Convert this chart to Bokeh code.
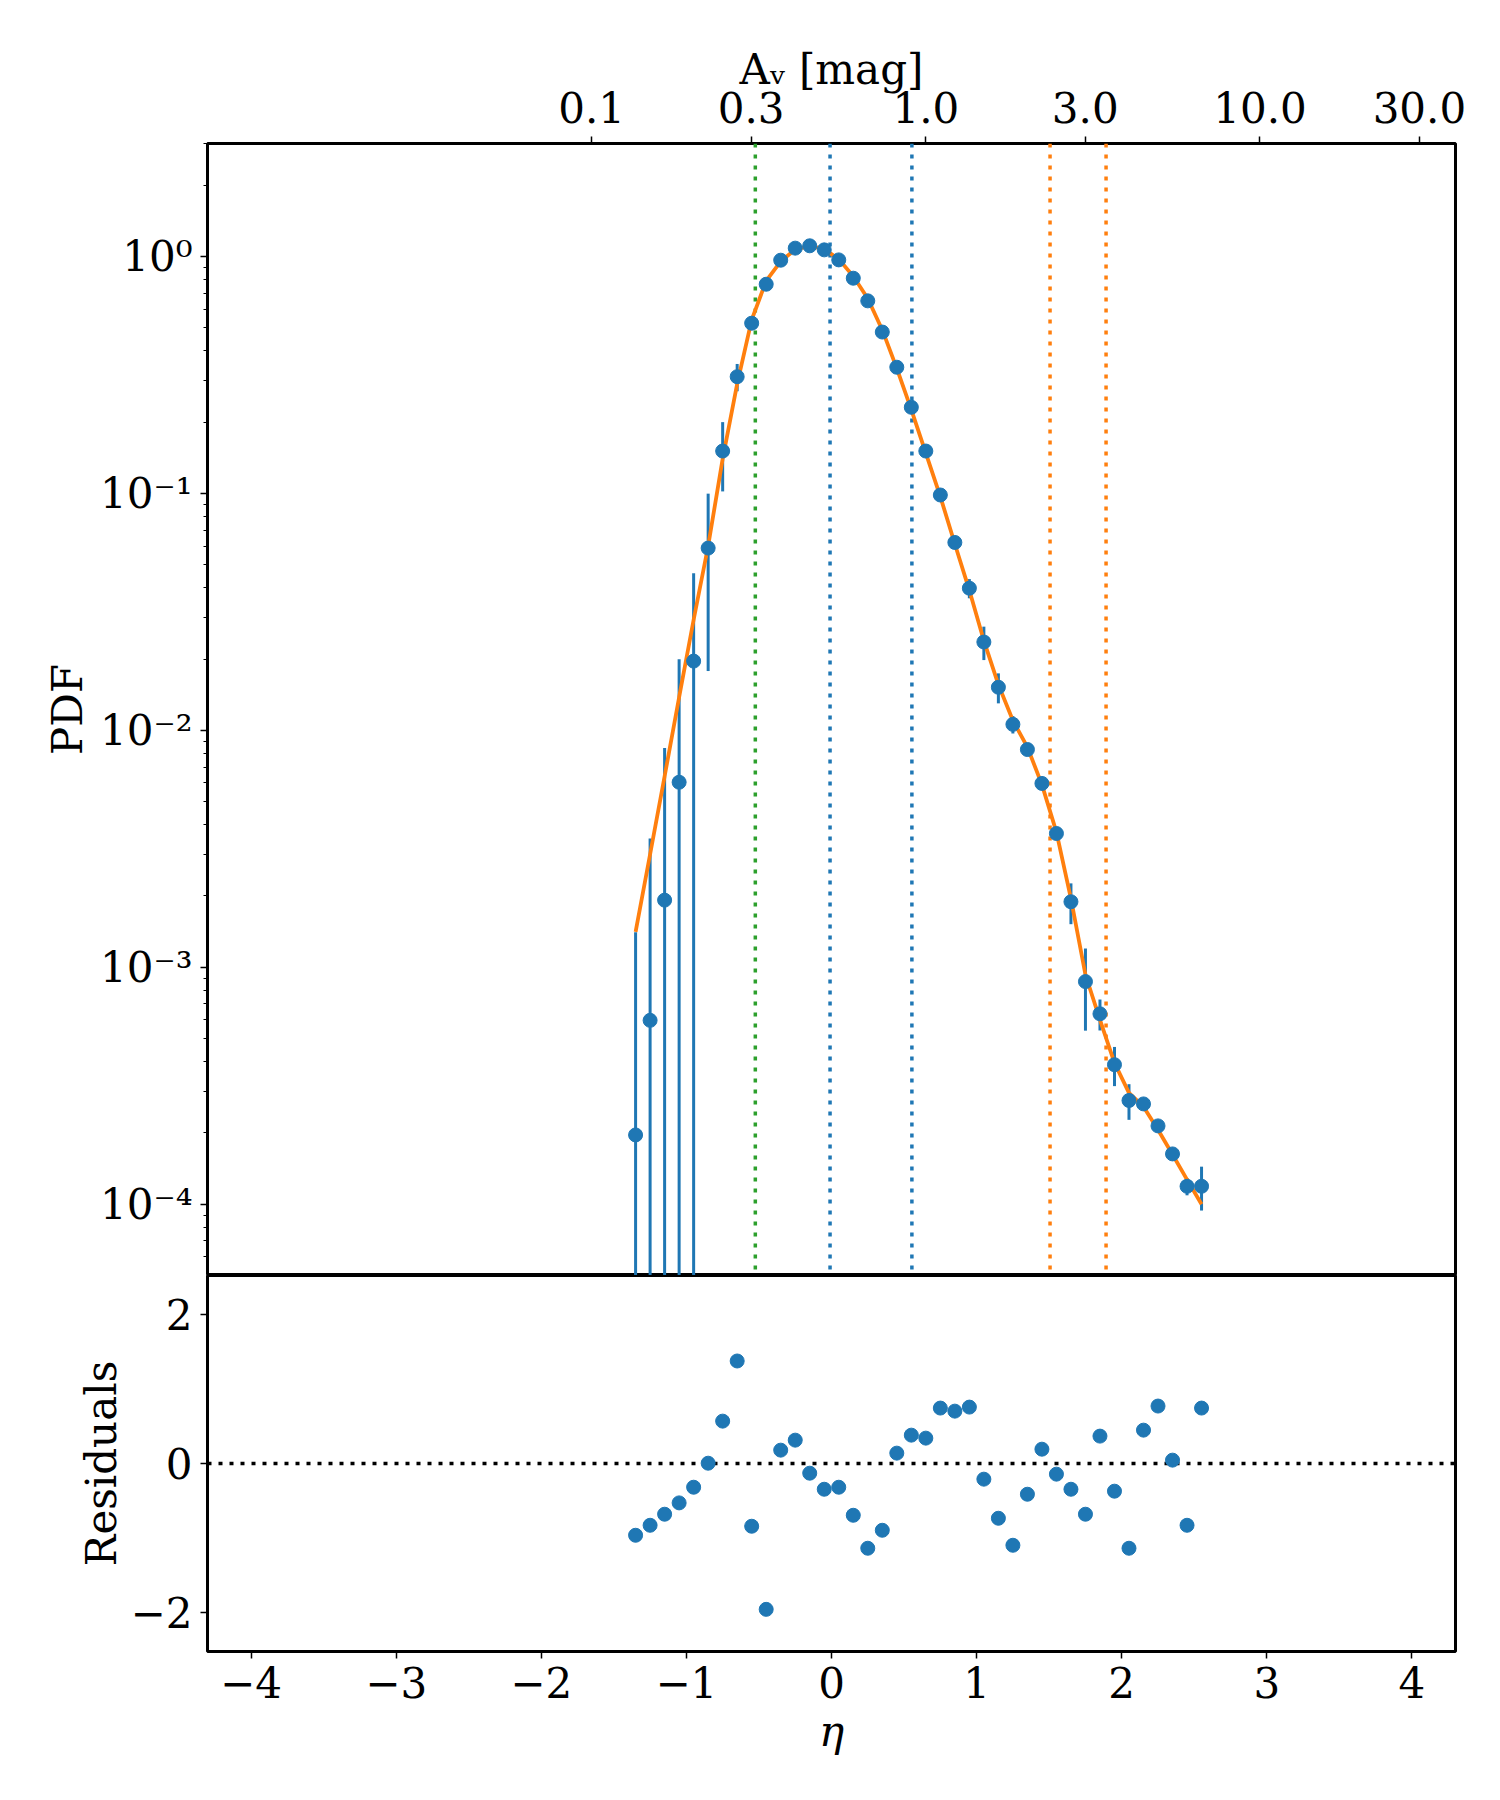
import numpy as np
from bokeh.plotting import figure
from bokeh.models import (Range1d, LinearAxis, FixedTicker, CustomJSTickFormatter,
                          Span, ColumnDataSource)
from bokeh.layouts import column
from bokeh.embed import file_html
from bokeh.resources import INLINE

# ---------------- data ----------------
eta = [-1.35, -1.25, -1.15, -1.05, -0.95, -0.85, -0.75, -0.65, -0.55, -0.45,
       -0.35, -0.25, -0.15, -0.05, 0.05, 0.15, 0.25, 0.35, 0.45, 0.55,
       0.65, 0.75, 0.85, 0.95, 1.05, 1.15, 1.25, 1.35, 1.45, 1.55,
       1.65, 1.75, 1.85, 1.95, 2.05, 2.15, 2.25, 2.35, 2.45, 2.55]

pdf = [1.96e-4, 5.97e-4, 1.92e-3, 6.04e-3, 0.0196, 0.0588, 0.151, 0.311, 0.523, 0.764,
       0.965, 1.085, 1.11, 1.067, 0.968, 0.81, 0.65, 0.48, 0.341, 0.231,
       0.151, 0.0985, 0.0621, 0.0398, 0.0236, 0.0152, 0.0106, 0.0083, 0.00597, 0.00367,
       0.00189, 8.7e-4, 6.36e-4, 3.88e-4, 2.74e-4, 2.65e-4, 2.14e-4, 1.63e-4, 1.19e-4, 1.19e-4]

pdf_err = [1.21e-3, 2.9e-3, 6.5e-3, 1.39e-2, 2.64e-2, 4.1e-2, 4.9e-2, 4.1e-2, 0.02, 0.013,
           0.02, 0.02, 0.02, 0.02, 0.02, 0.018, 0.015, 0.012, 0.009, 0.006,
           0.003, 0.004, 0.0035, 0.0037, 0.0038, 0.0022, 0.0009, 0.0004, 0.0003, 0.0002,
           0.00037, 3.3e-4, 0.95e-4, 0.73e-4, 0.47e-4, 0.15e-4, 0.1e-4, 0.1e-4, 0.1e-4, 0.25e-4]

pdf_fit = [1.41e-3, 3.0e-3, 6.4e-3, 0.0138, 0.0293, 0.060, 0.140, 0.290, 0.540, 0.790,
           0.955, 1.07, 1.11, 1.075, 0.975, 0.825, 0.665, 0.49, 0.337, 0.226,
           0.148, 0.097, 0.0612, 0.0390, 0.0239, 0.0156, 0.0110, 0.0085, 0.0059, 0.00372,
           0.00195, 9.3e-4, 6.0e-4, 3.95e-4, 2.95e-4, 2.58e-4, 2.06e-4, 1.62e-4, 1.27e-4, 1.0e-4]

residuals = [-0.962, -0.828, -0.680, -0.528, -0.318, 0.004, 0.568, 1.374, -0.841, -1.955,
             0.179, 0.313, -0.130, -0.345, -0.318, -0.694, -1.136, -0.895, 0.139, 0.380,
             0.340, 0.743, 0.702, 0.756, -0.210, -0.734, -1.096, -0.412, 0.192, -0.143,
             -0.345, -0.680, 0.367, -0.371, -1.136, 0.447, 0.770, 0.045, -0.828, 0.743]

vline_eta = [-0.525, -0.01, 0.554, 1.506, 1.892]
vline_colors = ["#2ca02c", "#1f77b4", "#1f77b4", "#ff7f0e", "#ff7f0e"]

av_mean = 0.522
av_ticks = [0.1, 0.3, 1.0, 3.0, 10.0, 30.0]
x_ticks = [-4, -3, -2, -1, 0, 1, 2, 3, 4]
pdf_ticks = [1e-4, 1e-3, 1e-2, 1e-1, 1.0]
res_ticks = [-2, 0, 2]

# ---------------- styling ----------------
FONT = "DejaVu Serif"
FS = "42px"
BLUE = "#1f77b4"
ORANGE = "#ff7f0e"
DOT = "4 7"
DOT_W = 3.5

x_lo, x_hi = -4.3, 4.3
y_lo, y_hi = 5e-5, 3.0
r_lo, r_hi = -2.52, 2.52


def style_axis(ax, italic=False):
    ax.axis_line_color = None
    ax.major_tick_line_color = "black"
    ax.major_tick_line_width = 1.5
    ax.major_tick_out = 7
    ax.major_tick_in = 0
    ax.minor_tick_line_color = "black"
    ax.minor_tick_line_width = 1.2
    ax.minor_tick_out = 4
    ax.minor_tick_in = 0
    ax.major_label_text_font = FONT
    ax.major_label_text_font_size = FS
    ax.major_label_text_color = "black"
    ax.axis_label_text_font = FONT
    ax.axis_label_text_font_size = FS
    ax.axis_label_text_color = "black"
    ax.axis_label_text_font_style = "italic" if italic else "normal"
    ax.major_label_standoff = 8
    ax.axis_label_standoff = 10


def style_fig(p):
    p.outline_line_color = "black"
    p.outline_line_width = 3
    p.outline_line_alpha = 1.0
    p.xgrid.visible = False
    p.ygrid.visible = False
    p.background_fill_color = "white"
    p.border_fill_color = "white"


minus_fmt = CustomJSTickFormatter(code="return tick.toFixed(0).replace('-', '\u2212');")
log_fmt = CustomJSTickFormatter(code="""
const sup = {'-': '\u207b', '0': '\u2070', '1': '\u00b9', '2': '\u00b2', '3': '\u00b3',
             '4': '\u2074', '5': '\u2075', '6': '\u2076', '7': '\u2077', '8': '\u2078', '9': '\u2079'};
const e = Math.round(Math.log10(tick));
return '10' + String(e).split('').map(c => sup[c]).join('');
""")

xr = Range1d(x_lo, x_hi)

# ---------------- main panel ----------------
p1 = figure(width=1475, height=1275, x_range=xr, y_range=Range1d(y_lo, y_hi),
            y_axis_type="log", x_axis_location=None, toolbar_location=None,
            output_backend="svg", min_border_left=207, min_border_right=20,
            min_border_top=143, min_border_bottom=0)
style_fig(p1)

minor = [m * 10.0 ** k for k in range(-5, 1) for m in range(2, 10)]
minor = [v for v in minor if y_lo <= v <= y_hi]
yax = p1.yaxis[0]
yax.ticker = FixedTicker(ticks=pdf_ticks, minor_ticks=minor)
yax.formatter = log_fmt
yax.axis_label = "PDF"
style_axis(yax)
yax.axis_label_standoff = 5

top_ax = LinearAxis(
    ticker=FixedTicker(ticks=[float(np.log(a / av_mean)) for a in av_ticks]),
    formatter=CustomJSTickFormatter(args=dict(m=av_mean),
                                    code="return (m*Math.exp(tick)).toFixed(1);"),
    axis_label="A\u1d65 [mag]")
style_axis(top_ax)
top_ax.major_label_standoff = 14
top_ax.axis_label_standoff = -5
p1.add_layout(top_ax, "above")

for xv, col in zip(vline_eta, vline_colors):
    p1.add_layout(Span(location=xv, dimension="height", line_color=col,
                       line_width=DOT_W, line_dash=DOT, level="underlay"))

pdf_a = np.array(pdf)
err_a = np.array(pdf_err)
lo = np.where(pdf_a - err_a > 0, pdf_a - err_a, 1e-9)
src = ColumnDataSource(dict(eta=eta, pdf=pdf, lo=lo, hi=pdf_a + err_a, fit=pdf_fit))
p1.segment(x0="eta", y0="lo", x1="eta", y1="hi", source=src, line_color=BLUE, line_width=3)
p1.line(x="eta", y="fit", source=src, line_color=ORANGE, line_width=3.8)
p1.scatter(x="eta", y="pdf", source=src, size=14, fill_color=BLUE, line_color=BLUE)

# ---------------- residual panel ----------------
p2 = figure(width=1475, height=501, x_range=xr, y_range=Range1d(r_lo, r_hi),
            toolbar_location=None, output_backend="svg",
            min_border_left=207, min_border_right=20, min_border_top=0,
            min_border_bottom=125)
style_fig(p2)
xax = p2.xaxis[0]
xax.ticker = FixedTicker(ticks=x_ticks)
xax.formatter = minus_fmt
xax.axis_label = "\u03b7"
style_axis(xax, italic=True)
xax.axis_label_standoff = 6
xax.minor_tick_line_color = None

rax = p2.yaxis[0]
rax.ticker = FixedTicker(ticks=res_ticks)
rax.formatter = minus_fmt
rax.axis_label = "Residuals"
style_axis(rax)
rax.axis_label_standoff = 2
rax.minor_tick_line_color = None

p2.add_layout(Span(location=0, dimension="width", line_color="black",
                   line_width=DOT_W, line_dash=DOT, level="underlay"))
rsrc = ColumnDataSource(dict(eta=eta, res=residuals))
p2.scatter(x="eta", y="res", source=rsrc, size=14, fill_color=BLUE, line_color=BLUE)

layout = column(p1, p2)
open("out.html", "w").write(file_html(layout, INLINE))
